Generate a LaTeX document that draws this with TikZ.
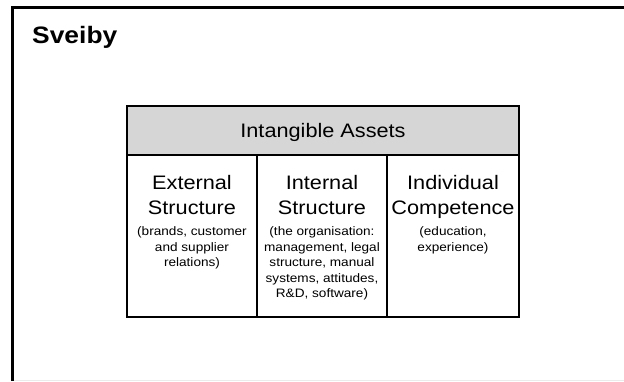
\documentclass[tikz,border=0pt]{standalone}
\usepackage{fontspec}
\setmainfont{Liberation Sans}
\usetikzlibrary{positioning}
\definecolor{headgrey}{RGB}{214,214,214}

\begin{document}
\begin{tikzpicture}[x = 1pt, y = 1pt, align = center, inner sep = 0pt,
        cell/.style = {draw = black, line width = 2pt, minimum height = 162pt},
        title/.style = {yscale = 0.9, anchor = north, text depth = 0pt, font = \fontsize{21.7}{27.8}\selectfont},
        note/.style = {yscale = 0.9, font = \fontsize{13.6}{17.2}\selectfont}]
    \useasboundingbox (0, 0) rectangle (624, 381);

    % slide frame
    \draw[line width = 3pt] (12.5, 0) -- (12.5, 373) -- (624, 373);
    \draw[black!8, line width = 1pt] (14, 0.5) -- (624, 0.5);
    \node[anchor = base west, yscale = 0.9, font = \bfseries\fontsize{26.4}{30}\selectfont] (name) at (32, 337.5) {Sveiby};

    \node[cell, fill = headgrey, minimum width = 392pt, minimum height = 49pt] (assets) at (323, 250.5) {};
    \node[cell, minimum width = 130pt] (ext) at (192, 145) {};
    \node[cell, minimum width = 130pt] (int) at (322, 145) {};
    \node[cell, minimum width = 132pt] (ind) at (453, 145) {};

    \node[anchor = base, yscale = 0.9, font = \fontsize{21.7}{26}\selectfont] (head) at (323, 243.7) {Intangible Assets};

    \node[title] (exttitle) at (192, 206) {External\\Structure};
    \node[note, below = 12pt of exttitle] (extnote) {(brands, customer\\and supplier\\relations)};

    \node[title] (inttitle) at (322, 206) {Internal\\Structure};
    \node[note, below = 12pt of inttitle] (intnote) {(the organisation:\\management, legal\\structure, manual\\systems, attitudes,\\R\&D, software)};

    \node[title] (indtitle) at (453, 206) {Individual\\Competence};
    \node[note, below = 12pt of indtitle] (indnote) {(education,\\experience)};
\end{tikzpicture}
\end{document}
